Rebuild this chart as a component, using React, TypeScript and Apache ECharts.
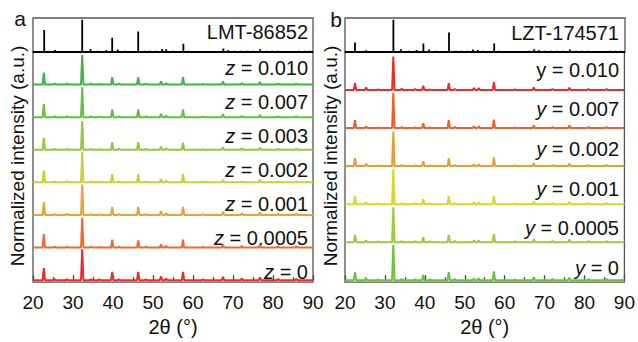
import React, { useEffect, useRef } from 'react';
import * as echarts from 'echarts';

const FONT = '"Liberation Sans", Arial, Helvetica, sans-serif';

// ---------- Panel a (LMT) ----------
const refPosA = [22.8, 25.5, 28.0, 32.3, 34.4, 36.3, 38.3, 39.8, 41.2, 43.0, 46.3, 48.0, 49.3, 50.8, 52.3, 53.3, 55.0, 57.6, 58.8, 60.9, 62.6, 64.3, 65.9, 67.6, 68.8, 70.4, 72.0, 73.6, 75.0, 76.8, 78.3, 79.8, 81.3, 83.0, 85.0, 86.5, 88.0, 89.3];
const refHA = [0.65, 0.06, 0.03, 0.95, 0.09, 0.04, 0.05, 0.42, 0.07, 0.04, 0.6, 0.04, 0.04, 0.04, 0.09, 0.08, 0.04, 0.24, 0.04, 0.03, 0.03, 0.03, 0.03, 0.1, 0.05, 0.04, 0.04, 0.04, 0.04, 0.08, 0.04, 0.04, 0.04, 0.03, 0.03, 0.04, 0.04, 0.04];

const peaksA = [22.7, 25.4, 28.5, 32.3, 34.5, 36.6, 39.8, 41.5, 46.3, 48.2, 52.0, 53.3, 57.5, 62.5, 67.5, 72.2, 76.7, 81.3, 85.8];
const hA_0 = [0.37, 0.03, 0.03, 0.95, 0.03, 0.02, 0.25, 0.03, 0.25, 0.03, 0.12, 0.05, 0.25, 0.02, 0.10, 0.05, 0.08, 0.04, 0.04];
const hA_00005 = [0.41, 0.03, 0.03, 0.91, 0.03, 0.02, 0.24, 0.03, 0.22, 0.03, 0.10, 0.05, 0.24, 0.02, 0.10, 0.05, 0.08, 0.04, 0.04];
const hA_0001 = [0.39, 0.03, 0.04, 0.93, 0.03, 0.02, 0.25, 0.03, 0.25, 0.03, 0.12, 0.05, 0.25, 0.02, 0.10, 0.05, 0.08, 0.04, 0.04];
const hA_0002 = [0.36, 0.03, 0.03, 0.93, 0.03, 0.02, 0.25, 0.03, 0.25, 0.03, 0.10, 0.05, 0.26, 0.02, 0.08, 0.04, 0.08, 0.03, 0.03];
const hA_0003 = [0.36, 0.03, 0.03, 0.88, 0.03, 0.02, 0.23, 0.03, 0.23, 0.03, 0.10, 0.05, 0.22, 0.02, 0.08, 0.04, 0.06, 0.03, 0.03];
const hA_0007 = [0.40, 0.03, 0.03, 0.92, 0.03, 0.02, 0.24, 0.03, 0.24, 0.03, 0.10, 0.05, 0.24, 0.02, 0.09, 0.04, 0.07, 0.03, 0.03];
const hA_0010 = [0.37, 0.03, 0.03, 0.91, 0.03, 0.02, 0.23, 0.03, 0.23, 0.03, 0.10, 0.04, 0.23, 0.02, 0.10, 0.04, 0.08, 0.03, 0.03];
// bottom to top
const labelsA = ['0', '0.0005', '0.001', '0.002', '0.003', '0.007', '0.010'];
const heightsA = [hA_0, hA_00005, hA_0001, hA_0002, hA_0003, hA_0007, hA_0010];
const colorsA = ['#ed2b2b', '#ef6a2d', '#e9a236', '#cbcf38', '#94c83e', '#66c03f', '#3fb449'];

// ---------- Panel b (LZT) ----------
const refPosB = [22.5, 25.3, 27.8, 32.1, 34.0, 36.0, 37.9, 39.6, 41.0, 42.8, 46.0, 47.8, 49.2, 50.6, 52.0, 53.2, 54.5, 57.3, 58.5, 60.8, 62.6, 64.5, 66.0, 67.3, 68.5, 70.0, 71.5, 73.0, 74.5, 76.2, 77.8, 79.3, 80.8, 82.5, 84.8, 86.3, 87.6, 89.0];
const refHB = [0.28, 0.05, 0.03, 0.95, 0.08, 0.04, 0.06, 0.25, 0.07, 0.04, 0.57, 0.04, 0.04, 0.04, 0.07, 0.06, 0.04, 0.25, 0.04, 0.03, 0.03, 0.03, 0.04, 0.08, 0.05, 0.04, 0.04, 0.04, 0.04, 0.07, 0.04, 0.04, 0.04, 0.03, 0.03, 0.04, 0.04, 0.04];

const peaksB = [22.5, 25.3, 28.3, 32.1, 34.2, 37.6, 39.6, 41.3, 46.0, 47.5, 52.3, 53.5, 57.3, 62.5, 67.3, 72.0, 76.2, 81.0, 85.5];
const hB_0 = [0.21, 0.05, 0.02, 0.93, 0.03, 0.02, 0.14, 0.02, 0.21, 0.03, 0.05, 0.05, 0.23, 0.02, 0.08, 0.03, 0.07, 0.03, 0.03];
const hB_00005 = [0.19, 0.05, 0.02, 0.92, 0.03, 0.02, 0.13, 0.02, 0.19, 0.03, 0.05, 0.05, 0.21, 0.02, 0.08, 0.03, 0.07, 0.03, 0.03];
const hB_0001 = [0.21, 0.05, 0.02, 0.92, 0.03, 0.02, 0.13, 0.02, 0.21, 0.03, 0.05, 0.05, 0.21, 0.02, 0.07, 0.03, 0.06, 0.03, 0.03];
const hB_0002 = [0.21, 0.06, 0.02, 0.91, 0.03, 0.02, 0.13, 0.02, 0.21, 0.03, 0.05, 0.05, 0.23, 0.02, 0.08, 0.03, 0.07, 0.03, 0.03];
const hB_0007 = [0.21, 0.05, 0.02, 0.93, 0.03, 0.02, 0.13, 0.02, 0.21, 0.03, 0.05, 0.05, 0.22, 0.02, 0.07, 0.03, 0.07, 0.03, 0.03];
const hB_0010 = [0.19, 0.07, 0.02, 0.88, 0.04, 0.03, 0.11, 0.02, 0.18, 0.03, 0.05, 0.05, 0.21, 0.02, 0.07, 0.03, 0.06, 0.03, 0.03];
const labelsB = ['0', '0.0005', '0.001', '0.002', '0.007', '0.010'];
const heightsB = [hB_0, hB_00005, hB_0001, hB_0002, hB_0007, hB_0010];
const colorsB = ['#6cc13f', '#9dcb3c', '#d6d62f', '#e2a032', '#ee5f2c', '#ed2b2b'];

const xTicks = [20, 30, 40, 50, 60, 70, 80, 90];

function buildTrace(pos: number[], h: number[], base: number, hw: number) {
  const d: number[][] = [[xTicks[0], base]];
  pos.forEach((p, i) => {
    d.push([p - hw, base], [p, base + h[i]], [p + hw, base]);
  });
  d.push([xTicks[xTicks.length - 1], base]);
  return d;
}

export default function App() {
  const ref = useRef<HTMLDivElement>(null);
  useEffect(() => {
    const chart = echarts.init(ref.current!, null, { renderer: 'svg' });
    const gridBase = { show: true, borderColor: '#555', borderWidth: 1.3, backgroundColor: 'transparent' };
    const grids = [
      { ...gridBase, left: 33, top: 18, width: 280, height: 34 },
      { ...gridBase, left: 33, top: 52, width: 280, height: 240 },
      { ...gridBase, left: 345, top: 18, width: 280, height: 34 },
      { ...gridBase, left: 345, top: 52, width: 280, height: 240 },
    ];
    const xAxisBase = (gi: number, bottom: boolean) => ({
      type: 'value', gridIndex: gi, min: 20, max: 90, interval: 10,
      axisLine: { show: false },
      splitLine: { show: false },
      axisTick: { show: bottom, inside: true, length: 5, lineStyle: { color: '#444', width: 1.3 } },
      minorTick: { show: bottom, splitNumber: 2, length: 3, lineStyle: { color: '#444', width: 1.3 } },
      axisLabel: { show: bottom, margin: 11, color: '#111', fontSize: 19, fontFamily: FONT },
      name: bottom ? '2θ (°)' : '',
      nameLocation: 'middle', nameGap: 30,
      nameTextStyle: { color: '#111', fontSize: 20, fontFamily: FONT },
    });
    const yAxisBase = (gi: number, min: number, max: number) => ({
      type: 'value', gridIndex: gi, min, max, show: false,
    });
    const series: any[] = [];
    series.push({
      type: 'line', xAxisIndex: 0, yAxisIndex: 0, symbol: 'none', clip: false, silent: true,
      lineStyle: { color: '#000', width: 1.8 }, data: buildTrace(refPosA, refHA, 0, 0),
    });
    series.push({
      type: 'line', xAxisIndex: 2, yAxisIndex: 2, symbol: 'none', clip: false, silent: true,
      lineStyle: { color: '#000', width: 1.8 }, data: buildTrace(refPosB, refHB, 0, 0),
    });
    heightsA.forEach((h, i) => {
      series.push({
        type: 'line', xAxisIndex: 1, yAxisIndex: 1, symbol: 'none', clip: false, silent: true,
        lineStyle: { color: colorsA[i], width: 2 }, data: buildTrace(peaksA, h, i, 0.3),
      });
    });
    heightsB.forEach((h, i) => {
      series.push({
        type: 'line', xAxisIndex: 3, yAxisIndex: 3, symbol: 'none', clip: false, silent: true,
        lineStyle: { color: colorsB[i], width: 2 }, data: buildTrace(peaksB, h, i, 0.3),
      });
    });

    const rich = { i: { fontStyle: 'italic', fontSize: 20, fontFamily: FONT, fill: '#111' } };
    const txt = (text: string, x: number, y: number, extra: any = {}) => ({
      type: 'text', silent: true,
      style: { text, x, y, fill: '#111', fontSize: 20, fontFamily: FONT, align: 'right', verticalAlign: 'middle', rich, ...extra },
    });
    const graphics: any[] = [];
    labelsA.forEach((l, i) => graphics.push(txt(`{i|z} = ${l}`, 308, 272 - 34 * i)));
    labelsB.forEach((l, i) => {
      const t = i === labelsB.length - 1 ? `y = ${l}` : `{i|y} = ${l}`;
      graphics.push(txt(t, 619, 268 - 39.7 * i));
    });
    graphics.push(txt('LMT-86852', 308, 32));
    graphics.push(txt('LZT-174571', 619, 33));
    graphics.push(txt('a', 20, 18, { align: 'center', fontSize: 21 }));
    graphics.push(txt('b', 336, 19, { align: 'center', fontSize: 21 }));
    graphics.push({
      type: 'text', silent: true, x: 17, y: 156, rotation: Math.PI / 2,
      style: { text: 'Normalized intensity (a.u.)', x: 0, y: 0, fill: '#111', fontSize: 19, fontFamily: FONT, align: 'center', verticalAlign: 'middle' },
    });
    graphics.push({
      type: 'text', silent: true, x: 330, y: 156, rotation: Math.PI / 2,
      style: { text: 'Normalized intensity (a.u.)', x: 0, y: 0, fill: '#111', fontSize: 19, fontFamily: FONT, align: 'center', verticalAlign: 'middle' },
    });

    chart.setOption({
      animation: false,
      backgroundColor: '#fff',
      grid: grids,
      xAxis: [xAxisBase(0, false), xAxisBase(1, true), xAxisBase(2, false), xAxisBase(3, true)],
      yAxis: [yAxisBase(0, 0, 1), yAxisBase(1, -0.06, 7), yAxisBase(2, 0, 1), yAxisBase(3, -0.05, 6)],
      series,
      graphic: graphics,
    });
    return () => chart.dispose();
  }, []);
  return <div ref={ref} style={{ position: 'absolute', left: 0, top: 0, width: 638, height: 342 }} />;
}
